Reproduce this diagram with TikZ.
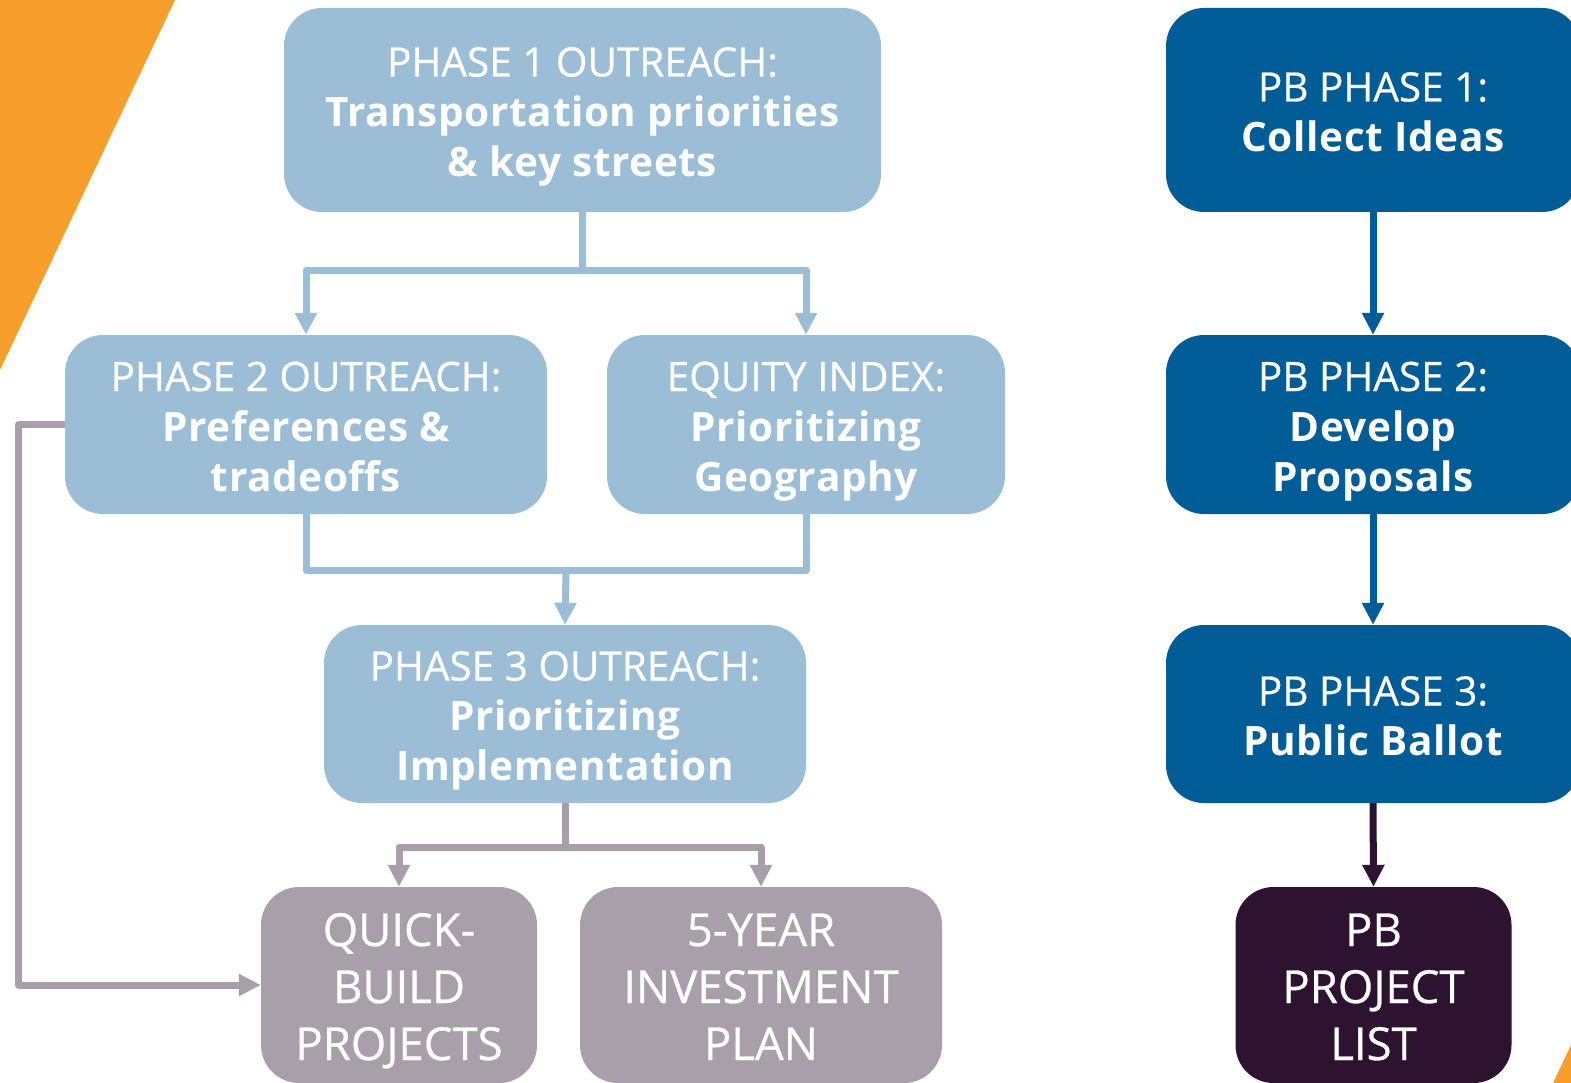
\documentclass[tikz,border=0pt]{standalone}
\usepackage{fontspec}
\setmainfont{Open Sans}[UprightFeatures={FakeBold=0.6}]
\usetikzlibrary{arrows.meta,positioning}
\definecolor{lb}{HTML}{9BBDD6}
\definecolor{gp}{HTML}{A99FAB}
\definecolor{db}{HTML}{005C97}
\definecolor{dp}{HTML}{2D1330}
\definecolor{og}{HTML}{F89E2C}
\newcommand{\bt}[1]{{\bfseries\addfontfeatures{LetterSpace=1.6}#1}}
\newcommand{\ZA}{\rule{0pt}{48.5pt}}
\newcommand{\ZB}{\rule[-15.5pt]{0pt}{15.5pt}}
\newcommand{\ZC}{\rule{0pt}{50pt}}
\newcommand{\ZD}{\rule[-14pt]{0pt}{14pt}}
\begin{document}
\begin{tikzpicture}[x=1pt,y=-1pt,
  box/.style={rounded corners=38pt, inner sep=0pt, align=center, text=white,
    font=\fontsize{40.5}{50}\selectfont},
  lbbox/.style={box, fill=lb},
  gpbox/.style={box, fill=gp, font=\fontsize{45.5}{57}\selectfont},
  dbbox/.style={box, fill=db},
  dpbox/.style={box, fill=dp, font=\fontsize{45.5}{57}\selectfont},
  conn/.style={line width=7pt, line join=round},
  tip/.style={-{Triangle[width=21pt,length=22pt]}}]
\useasboundingbox (0,0) rectangle (1571,1083);
\fill[og] (0,0) -- (175,0) -- (0,370) -- cycle;
\fill[og] (1553,1083) -- (1571,1045) -- (1571,1083) -- cycle;

\node[lbbox, minimum width=597pt, minimum height=204pt] (P1) at (582.5,110)
  {\ZA PHASE 1 OUTREACH:\\ \bt{Transportation priorities}\\ \bt{\& key streets}\ZB};
\node[lbbox, minimum width=482pt, minimum height=179pt] (P2) at (306,424.5)
  {\ZA PHASE 2 OUTREACH:\\ \bt{Preferences \&}\\ \bt{tradeoffs}\ZB};
\node[lbbox, minimum width=398pt, minimum height=179pt] (EQ) at (806,424.5)
  {\ZA EQUITY INDEX:\\ \bt{Prioritizing}\\ \bt{Geography}\ZB};
\node[lbbox, minimum width=482pt, minimum height=178pt] (P3) at (565,714)
  {\ZA PHASE 3 OUTREACH:\\ \bt{Prioritizing}\\ \bt{Implementation}\ZB};
\node[gpbox, minimum width=276pt, minimum height=196pt] (QB) at (399,985)
  {\ZC QUICK-\\BUILD\\PROJECTS\ZD};
\node[gpbox, minimum width=362pt, minimum height=196pt] (FY) at (761,985)
  {\ZC 5-YEAR\\INVESTMENT\\PLAN\ZD};

\node[dbbox, minimum width=414pt, minimum height=204pt] (B1) at (1373,110)
  {\ZA PB PHASE 1:\\ \bt{Collect Ideas}\ZB};
\node[dbbox, minimum width=414pt, minimum height=179pt] (B2) at (1373,424.5)
  {\ZA PB PHASE 2:\\ \bt{Develop}\\ \bt{Proposals}\ZB};
\node[dbbox, minimum width=414pt, minimum height=178pt] (B3) at (1373,714)
  {\ZA PB PHASE 3:\\ \bt{Public Ballot}\ZB};
\node[dpbox, minimum width=276pt, minimum height=196pt] (BL) at (1373.5,985)
  {\ZC PB\\PROJECT\\LIST\ZD};

% light blue connectors
\draw[conn, lb] (P1.south) -- ++(0,58) coordinate (s1);
\draw[conn, lb, tip] (s1) -| (P2.north);
\draw[conn, lb, tip] (s1) -| (EQ.north);
\coordinate (m1) at (566,570);
\draw[conn, lb] (P2.south) |- (m1) -| (EQ.south);
\draw[conn, lb, tip] (m1) -- (P3.north);
% gray connectors
\draw[conn, gp] (P3.south) -- ++(0,44) coordinate (s3);
\draw[conn, gp, tip] (s3) -| (QB.north);
\draw[conn, gp, tip] (s3) -| (FY.north);
\draw[conn, gp, tip] (P2.west) -- ++(-46,0) |- (QB.west);
% right column
\draw[conn, db, tip] (B1.south) -- (B2.north);
\draw[conn, db, tip] (B2.south) -- (B3.north);
\draw[conn, dp, tip] (B3.south) -- (BL.north);
\end{tikzpicture}
\end{document}
